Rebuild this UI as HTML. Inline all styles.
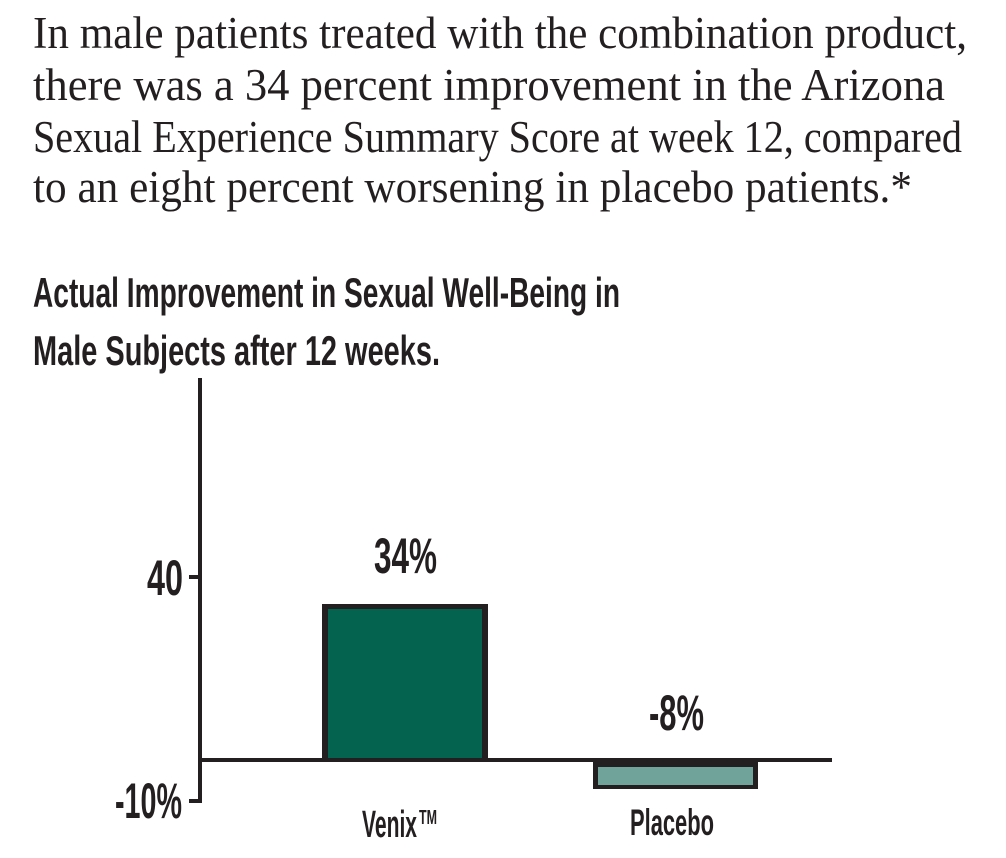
<!DOCTYPE html>
<html>
<head>
<meta charset="utf-8">
<style>
  html, body { margin: 0; padding: 0; background: #ffffff; }
  svg { display: block; }
  .serif { font-family: "Liberation Serif", serif; fill: #231f20; }
  .sans { font-family: "Liberation Sans", sans-serif; font-weight: bold; fill: #231f20; }
</style>
</head>
<body>
<svg width="1006" height="858" viewBox="0 0 1006 858" xmlns="http://www.w3.org/2000/svg">
  <rect x="0" y="0" width="1006" height="858" fill="#ffffff"/>

  <!-- Paragraph -->
  <text class="serif" x="33" y="48" font-size="45" textLength="934" lengthAdjust="spacingAndGlyphs">In male patients treated with the combination product,</text>
  <text class="serif" x="33" y="100" font-size="45" textLength="912" lengthAdjust="spacingAndGlyphs">there was a 34 percent improvement in the Arizona</text>
  <text class="serif" x="33" y="152" font-size="45" textLength="929" lengthAdjust="spacingAndGlyphs">Sexual Experience Summary Score at week 12, compared</text>
  <text class="serif" x="33" y="202" font-size="45" textLength="879" lengthAdjust="spacingAndGlyphs">to an eight percent worsening in placebo patients.*</text>

  <!-- Title -->
  <text class="sans" x="33" y="307" font-size="42" textLength="587" lengthAdjust="spacingAndGlyphs">Actual Improvement in Sexual Well-Being in</text>
  <text class="sans" x="33" y="365" font-size="42" textLength="407" lengthAdjust="spacingAndGlyphs">Male Subjects after 12 weeks.</text>

  <!-- Axis -->
  <rect x="198" y="378" width="4" height="425" fill="#231f20"/>
  <rect x="189" y="575" width="11" height="4" fill="#231f20"/>
  <rect x="189" y="799" width="11" height="4" fill="#231f20"/>

  <!-- Tick labels -->
  <text class="sans" x="147" y="595" font-size="50" textLength="36" lengthAdjust="spacingAndGlyphs">40</text>
  <text class="sans" x="115" y="818" font-size="50" textLength="67" lengthAdjust="spacingAndGlyphs">-10%</text>

  <!-- Venix bar -->
  <rect x="322" y="604" width="166" height="158" fill="#231f20"/>
  <rect x="328" y="609" width="154" height="149" fill="#03634f"/>

  <!-- Placebo bar -->
  <rect x="593" y="758" width="165" height="31" fill="#231f20"/>
  <rect x="598" y="767" width="155" height="18" fill="#70a399"/>

  <!-- Zero line -->
  <rect x="200" y="758" width="632" height="4" fill="#231f20"/>

  <!-- Value labels -->
  <text class="sans" x="374" y="573" font-size="50" textLength="63" lengthAdjust="spacingAndGlyphs">34%</text>
  <text class="sans" x="649" y="730" font-size="50" textLength="55" lengthAdjust="spacingAndGlyphs">-8%</text>

  <!-- Category labels -->
  <text class="sans" x="362" y="837" font-size="38" textLength="55" lengthAdjust="spacingAndGlyphs">Venix</text>
  <text class="sans" x="419" y="824" font-size="20" font-weight="normal" textLength="18" lengthAdjust="spacingAndGlyphs">TM</text>
  <text class="sans" x="630" y="835" font-size="37" textLength="84" lengthAdjust="spacingAndGlyphs">Placebo</text>
</svg>
</body>
</html>
